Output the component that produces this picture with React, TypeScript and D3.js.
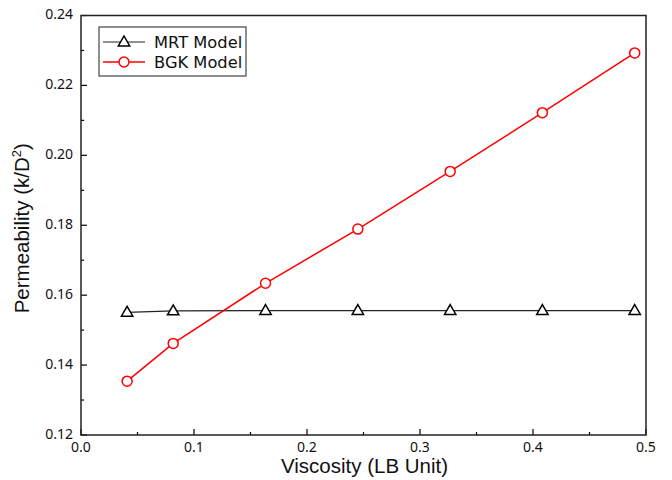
import React from "react";
import * as d3 from "d3";

const viscosity = [0.0408, 0.0816, 0.1633, 0.245, 0.3267, 0.4083, 0.49];
const mrtValues = [0.1551, 0.1555, 0.1556, 0.1556, 0.1556, 0.1556, 0.1556];
const bgkValues = [0.1354, 0.1462, 0.1634, 0.1789, 0.1954, 0.2122, 0.2293];
const xTicks = [0, 0.1, 0.2, 0.3, 0.4, 0.5];
const yTicks = [0.12, 0.14, 0.16, 0.18, 0.2, 0.22, 0.24];
const xMinor = [0.05, 0.15, 0.25, 0.35, 0.45];
const yMinor = [0.13, 0.15, 0.17, 0.19, 0.21, 0.23];
const seriesNames = ["MRT Model", "BGK Model"];

export default function App() {
  const W = 672, H = 480;
  const L = 81, R = 646, T = 15.5, B = 435;
  const x = d3.scaleLinear().domain([0, 0.5]).range([L, R]);
  const y = d3.scaleLinear().domain([0.12, 0.24]).range([B, T]);
  const line = d3.line<number>().x((_, i) => x(viscosity[i])).y((v) => y(v));
  const tickFont = "'Noto Sans', 'DejaVu Sans', sans-serif";
  const legendFont = "'DejaVu Sans', Verdana, sans-serif";
  const titleFont = "'Liberation Sans', Arial, sans-serif";
  const tri = (cx: number, cy: number, s = 6) =>
    `M${cx},${cy - s} L${cx + s * 0.95},${cy + s * 0.65} L${cx - s * 0.95},${cy + s * 0.65} Z`;
  return (
    <svg width={W} height={H} style={{ position: "absolute", left: 0, top: 0, background: "#fff" }}>
      <rect x={0} y={0} width={W} height={H} fill="#fff" />
      {xTicks.map((t) => (
        <line key={"xt" + t} x1={x(t)} x2={x(t)} y1={B} y2={B - 6} stroke="#000" strokeWidth={1.2} />
      ))}
      {xMinor.map((t) => (
        <line key={"xm" + t} x1={x(t)} x2={x(t)} y1={B} y2={B - 3} stroke="#000" strokeWidth={1.2} />
      ))}
      {yTicks.map((t) => (
        <line key={"yt" + t} x1={L} x2={L + 6} y1={y(t)} y2={y(t)} stroke="#000" strokeWidth={1.2} />
      ))}
      {yMinor.map((t) => (
        <line key={"ym" + t} x1={L} x2={L + 3} y1={y(t)} y2={y(t)} stroke="#000" strokeWidth={1.2} />
      ))}
      {xTicks.map((t) => (
        <text key={"xl" + t} x={x(t)} y={B + 16.5} textAnchor="middle" fontFamily={tickFont} fontSize={14} fill="#111">
          {t.toFixed(1)}
        </text>
      ))}
      {yTicks.map((t) => (
        <text key={"yl" + t} x={L - 8} y={y(t) + 3.5} textAnchor="end" fontFamily={tickFont} fontSize={14} fill="#111">
          {t.toFixed(2)}
        </text>
      ))}
      <text x={(L + R) / 2 + 1} y={473} textAnchor="middle" fontFamily={titleFont} fontSize={20.5} fill="#111">
        Viscosity (LB Unit)
      </text>
      <text transform={`translate(29,${(T + B) / 2 + 3}) rotate(-90)`} textAnchor="middle" fontFamily={titleFont} fontSize={20.5} fill="#111">
        Permeability (k/D<tspan dy={-8} fontSize={13}>2</tspan><tspan dy={8}>)</tspan>
      </text>
      <path d={line(mrtValues) || ""} fill="none" stroke="#222" strokeWidth={1.2} />
      <path d={line(bgkValues) || ""} fill="none" stroke="#ff0000" strokeWidth={1.5} />
      {mrtValues.map((v, i) => (
        <path key={"m" + i} d={tri(x(viscosity[i]), y(v))} fill="#fff" stroke="#000" strokeWidth={1.5} />
      ))}
      {bgkValues.map((v, i) => (
        <circle key={"b" + i} cx={x(viscosity[i])} cy={y(v)} r={5} fill="#fff" stroke="#ff0000" strokeWidth={1.5} />
      ))}
      <rect x={L} y={T} width={R - L} height={B - T} fill="none" stroke="#222" strokeWidth={1.5} />
      <rect x={99} y={27} width={147} height={49} fill="#fff" stroke="#444" strokeWidth={1.2} />
      <line x1={103} x2={145} y1={42} y2={42} stroke="#222" strokeWidth={1.2} />
      <path d={tri(124, 42)} fill="#fff" stroke="#000" strokeWidth={1.5} />
      <text x={154} y={47.5} fontFamily={legendFont} fontSize={16.3} fill="#111">{seriesNames[0]}</text>
      <line x1={103} x2={145} y1={62} y2={62} stroke="#ff0000" strokeWidth={1.5} />
      <circle cx={124} cy={62} r={5} fill="#fff" stroke="#ff0000" strokeWidth={1.5} />
      <text x={154} y={67.5} fontFamily={legendFont} fontSize={16.3} fill="#111">{seriesNames[1]}</text>
    </svg>
  );
}
